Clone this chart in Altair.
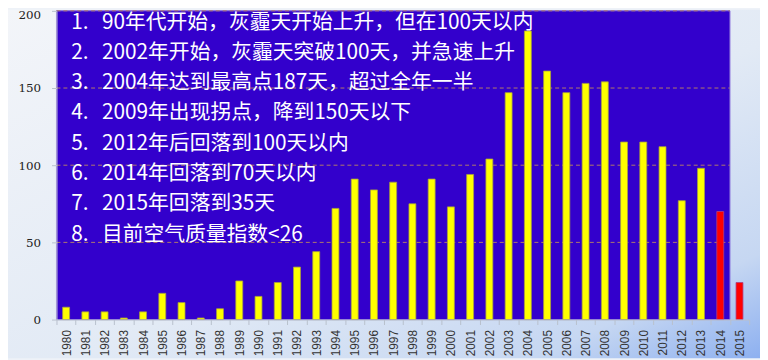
import altair as alt
import pandas as pd

years = [str(y) for y in range(1980, 2016)]
haze_days = [8, 5, 5, 1, 5, 17, 11, 1, 7, 25,
             15, 24, 34, 44, 72, 91, 84, 89, 75, 91,
             73, 94, 104, 147, 187, 161, 147, 153, 154, 115,
             115, 112, 77, 98, 70, 24]
highlight_years = ["2014", "2015"]
grid_values = [50, 100, 150, 200]
y_ticks = [0, 50, 100, 150, 200]
note_numbers = ["1.", "2.", "3.", "4.", "5.", "6.", "7.", "8."]
note_texts = [
    "90年代开始，灰霾天开始上升，但在100天以内",
    "2002年开始，灰霾天突破100天，并急速上升",
    "2004年达到最高点187天，超过全年一半",
    "2009年出现拐点，降到150天以下",
    "2012年后回落到100天以内",
    "2014年回落到70天以内",
    "2015年回落到35天",
    "目前空气质量指数<26",
]

W, H = 700, 312
PAD = {"left": 49, "top": 1, "right": 11, "bottom": 39}

df = pd.DataFrame({
    "year": years,
    "days": haze_days,
    "kind": ["red" if y in highlight_years else "yellow" for y in years],
})
grid_df = pd.DataFrame({"v": grid_values})

xs = alt.Scale(domain=years, paddingInner=0.0, paddingOuter=0.0)
ys = alt.Scale(domain=[0, 200], nice=False)

bg = alt.Chart(pd.DataFrame({"a": [0]})).mark_rect(
    fill=alt.LinearGradient(
        gradient="linear", x1=0, y1=0, x2=1, y2=1,
        stops=[alt.GradientStop(offset=0, color="#f3f5f9"),
               alt.GradientStop(offset=0.55, color="#e2eaf5"),
               alt.GradientStop(offset=0.85, color="#c6d7f2"),
               alt.GradientStop(offset=1, color="#8db0f0")]),
).encode(
    x=alt.value(-PAD["left"]), x2=alt.value(W + PAD["right"]),
    y=alt.value(-PAD["top"]), y2=alt.value(H + PAD["bottom"]),
)

blue = alt.Chart(pd.DataFrame({"a": [0]})).mark_rect(
    fill="#3300cc", stroke="#7a5ad8", strokeWidth=1
).encode(
    x=alt.value(0), x2=alt.value(W * 35 / 36),
    y=alt.value(0), y2=alt.value(H),
)

grid = alt.Chart(grid_df).mark_rule(
    color="#b07a6a", strokeDash=[4, 3], strokeWidth=1
).encode(
    y=alt.Y("v:Q", scale=ys),
    x=alt.value(0), x2=alt.value(W * 35 / 36),
)

bars = alt.Chart(df).mark_bar(size=7, strokeWidth=0.8).encode(
    x=alt.X("year:N", scale=xs, sort=years,
            axis=alt.Axis(title=None, labelAngle=270, tickBand="extent",
                          labelFontSize=12, labelColor="#333333",
                          labelFont="Liberation Sans", domainColor="#b8c0cc",
                          tickColor="#b8c0cc", tickSize=5, labelPadding=5,
                          zindex=1)),
    y=alt.Y("days:Q", scale=ys,
            axis=alt.Axis(title=None, values=y_ticks, grid=False,
                          labelFontSize=12, labelColor="#222222",
                          labelFont="DejaVu Serif", domainColor="#c8ccd4",
                          tickColor="#b8c0cc", tickSize=5, labelPadding=11,
                          labelOffset=alt.condition("datum.value == 200",
                                                    alt.value(4), alt.value(0)),
                          zindex=1)),
    color=alt.Color("kind:N", scale=alt.Scale(domain=["yellow", "red"],
                                              range=["#ffff00", "#ff0000"]),
                    legend=None),
    stroke=alt.Stroke("kind:N", scale=alt.Scale(domain=["yellow", "red"],
                                                range=["#a8a040", "#b04080"]),
                      legend=None),
)

txt_props = dict(fontSize=21, font="Noto Sans CJK SC", color="white",
                 align="left", baseline="top", lineHeight=30.6)
num_text = alt.Chart(pd.DataFrame({"a": [0]})).mark_text(**txt_props).encode(
    x=alt.value(15), y=alt.value(1), text=alt.value(note_numbers))
body_text = alt.Chart(pd.DataFrame({"a": [0]})).mark_text(**txt_props).encode(
    x=alt.value(46), y=alt.value(1), text=alt.value(note_texts))

chart = alt.layer(bg, blue, grid, bars, num_text, body_text).properties(
    width=W, height=H,
    autosize=alt.AutoSizeParams(type="none"),
    padding=PAD,
).configure_view(stroke=None).configure(background="#eef2f8")

chart.save("out.html", embed_options={"renderer": "svg", "actions": False})
